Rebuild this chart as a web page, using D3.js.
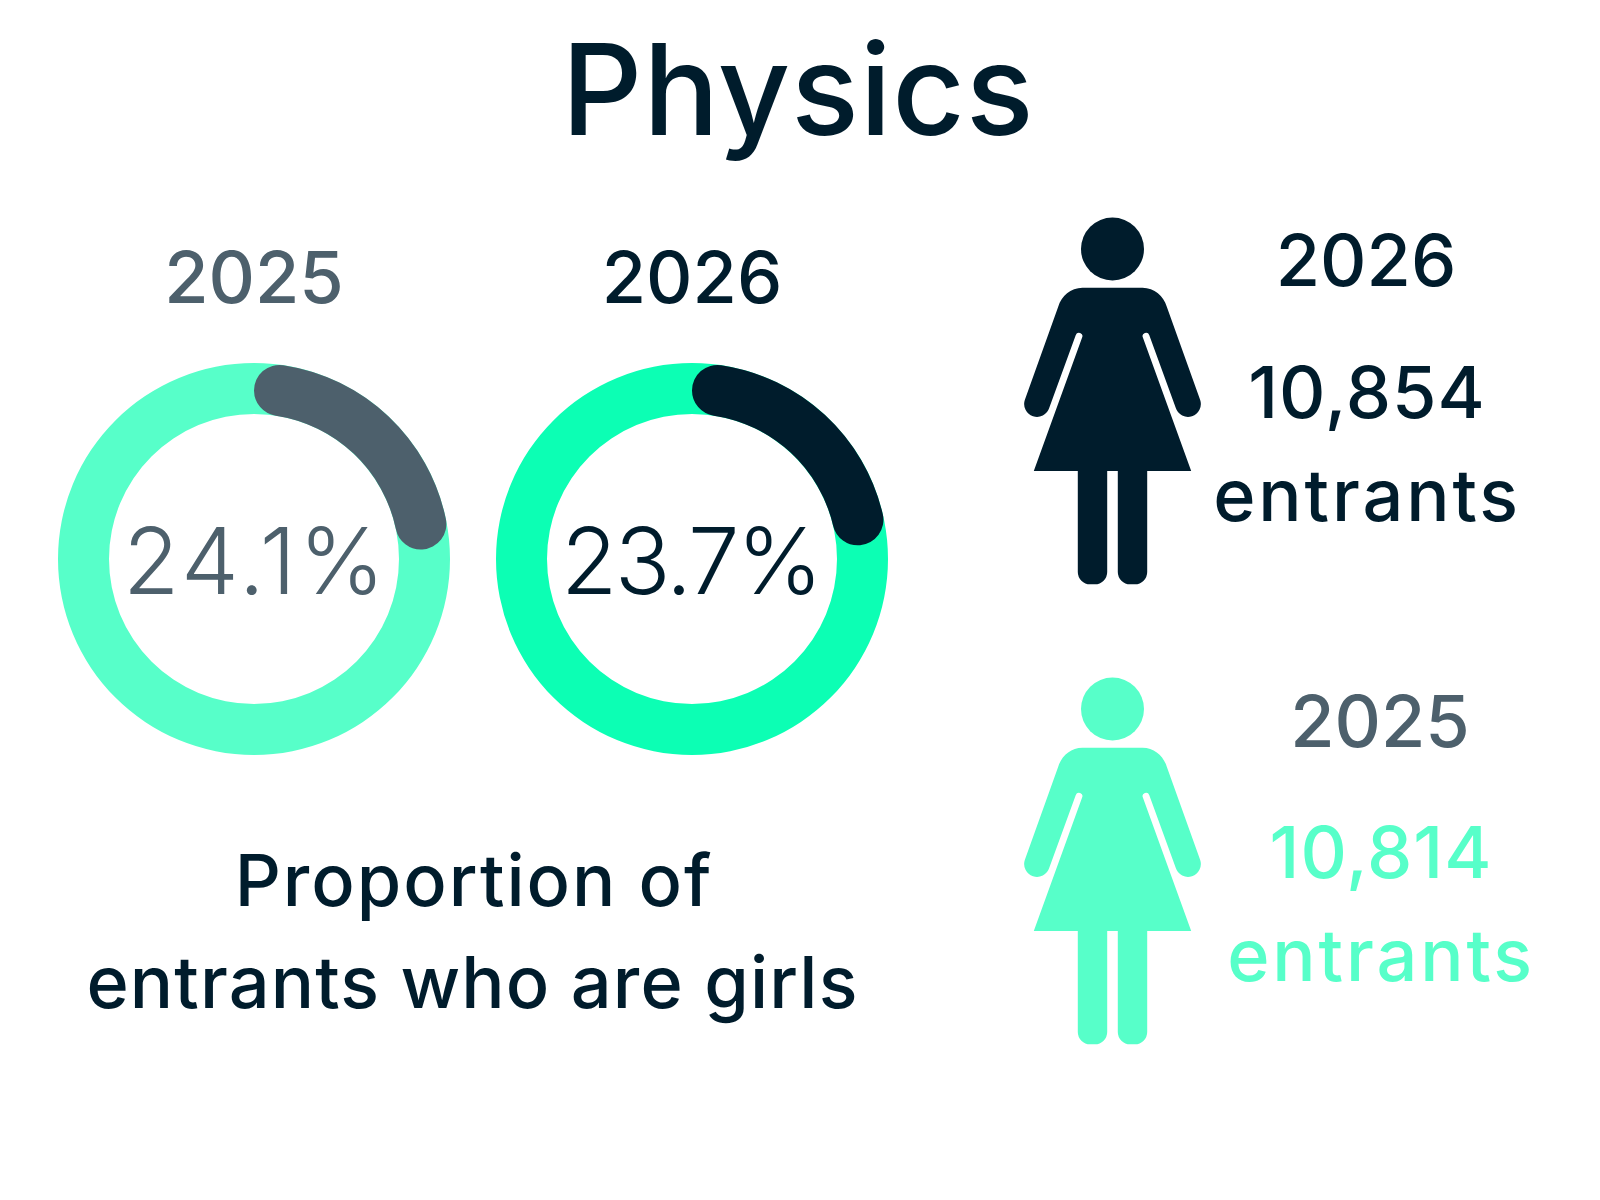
<!DOCTYPE html>
<html>
<head>
<meta charset="utf-8">
<script src="https://cdn.jsdelivr.net/npm/d3@7"></script>
<style>
  html, body { margin: 0; background: #fff; }
  text { font-family: "Inter", sans-serif; text-anchor: middle; font-weight: 500; }
</style>
</head>
<body>
<div id="container"></div>
<script>
const years = ['2025', '2026'];
const girlShare = [24.1, 23.7];
const entrants = [10814, 10854];

const dark = '#001c2c';
const grey = '#4d606c';
const ringColours = ['#57ffc9', '#0cffb4'];
const arcColours = [grey, dark];
const textColours = [grey, dark];
const countColours = ['#57ffc9', dark];

const svg = d3.select('#container')
  .append('svg')
  .attr('width', 1600)
  .attr('height', 1200);

svg.append('text')
  .attr('x', 798).attr('y', 135)
  .attr('font-size', 126)
  .attr('letter-spacing', 0.8)
  .attr('fill', dark)
  .text('Physics');

// donuts
const outer = 196, inner = 145;
const angle = d3.scaleLinear().domain([0, 100]).range([0, 2 * Math.PI]);
const xDonut = d3.scalePoint().domain(years).range([254, 692]);

const arc = d3.arc()
  .innerRadius(inner)
  .outerRadius(outer)
  .cornerRadius((outer - inner) / 2)
  .startAngle(0);

years.forEach((year, i) => {
  const g = svg.append('g')
    .attr('transform', `translate(${xDonut(year)}, 559)`);

  g.append('path')
    .attr('d', d3.arc().innerRadius(inner).outerRadius(outer).startAngle(0).endAngle(2 * Math.PI)())
    .attr('fill', ringColours[i]);

  g.append('path')
    .attr('d', arc({ endAngle: angle(girlShare[i]) }))
    .attr('fill', arcColours[i]);

  g.append('text')
    .attr('y', 35)
    .attr('font-size', 92)
    .attr('textLength', 262)
    .attr('lengthAdjust', 'spacing')
    .style('font-weight', 300)
    .attr('fill', textColours[i])
    .text(girlShare[i].toFixed(1) + '%');

  g.append('text')
    .attr('y', -256)
    .attr('font-size', 72)
    .attr('fill', textColours[i])
    .text(year);
});

svg.append('text')
  .attr('x', 474).attr('y', 906)
  .attr('font-size', 72)
  .attr('letter-spacing', 2)
  .attr('fill', dark)
  .text('Proportion of');

svg.append('text')
  .attr('x', 472.5).attr('y', 1008)
  .attr('font-size', 72)
  .attr('letter-spacing', 1.15)
  .attr('fill', dark)
  .text('entrants who are girls');

// figure icon, drawn around the centre of the head
const figure = 'M-30,38.7 L30,38.7 C42,38.7 51,47 54.3,57.7 L87.7,151 '
  + 'A12.7,12.7 0 0 1 63.3,159 L36.7,86 A3.3,3.3 0 0 0 30.3,88.3 L78.7,222 '
  + 'L34.7,222 L34.7,323 A12.3,12.3 0 0 1 22.4,335.3 L17.6,335.3 A12.3,12.3 0 0 1 5.3,323 L5.3,222 '
  + 'L-5.3,222 L-5.3,323 A12.3,12.3 0 0 1 -17.6,335.3 L-22.4,335.3 A12.3,12.3 0 0 1 -34.7,323 L-34.7,222 '
  + 'L-78.7,222 L-30.3,88.3 A3.3,3.3 0 0 0 -36.7,86 L-63.3,159 A12.7,12.7 0 0 1 -87.7,151 '
  + 'L-54.3,57.7 C-51,47 -42,38.7 -30,38.7 Z';

const format = d3.format(',');

// 2026 sits on top, 2025 below
const panels = [
  { i: 1, top: 249, textX: 1367, base: [286, 418, 521] },
  { i: 0, top: 709, textX: 1381, base: [747, 878, 981] }
];

panels.forEach(p => {
  const g = svg.append('g').attr('transform', `translate(1112.5, ${p.top})`);
  g.append('circle').attr('r', 31.5).attr('fill', countColours[p.i]);
  g.append('path').attr('d', figure).attr('fill', countColours[p.i]);

  svg.append('text')
    .attr('x', p.textX - 1).attr('y', p.base[0])
    .attr('font-size', 72)
    .attr('fill', textColours[p.i])
    .text(years[p.i]);

  svg.append('text')
    .attr('x', p.textX).attr('y', p.base[1])
    .attr('font-size', 72)
    .attr('letter-spacing', 1)
    .attr('fill', countColours[p.i])
    .text(format(entrants[p.i]));

  svg.append('text')
    .attr('x', p.textX).attr('y', p.base[2])
    .attr('font-size', 72)
    .attr('letter-spacing', 2.9)
    .attr('fill', countColours[p.i])
    .text('entrants');
});
</script>
</body>
</html>
